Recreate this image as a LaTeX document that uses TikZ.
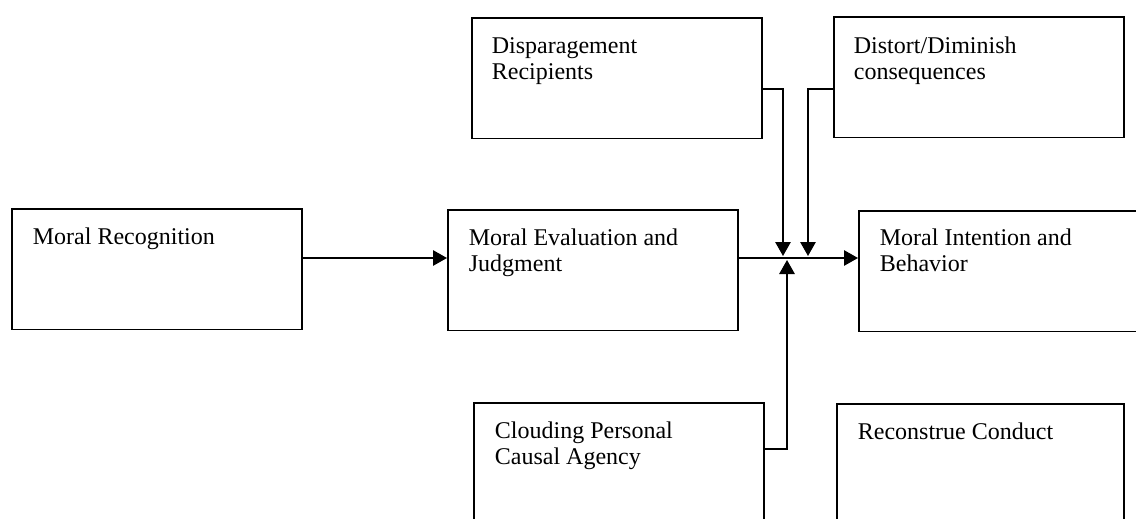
\documentclass[tikz,border=0pt]{standalone}
\usepackage{fontspec}
\setmainfont{Liberation Serif}
\usetikzlibrary{arrows.meta}

\begin{document}
\begin{tikzpicture}[x=0.75pt, y=-0.75pt, line width=1.35pt,
		box/.style={draw, rectangle, anchor=north west, inner sep=0pt, minimum width=217.5pt, minimum height=90.5pt},
		txt/.style={anchor=north west, inner sep=0pt, align=left, font=\fontsize{18pt}{19.5pt}\selectfont},
		arr/.style={-{Triangle[length=10.5pt, width=11.5pt]}}]
		\clip (0,0) rectangle (1136,518);
		
		\node[box] (recog) at (11,208) {};
		\node[box] (eval) at (447,209) {};
		\node[box] (intent) at (858,210) {};
		\node[box] (disp) at (471,17) {};
		\node[box] (distort) at (833,16) {};
		\node[box, minimum height=115pt] (cloud) at (473,402) {};
		\node[box, minimum width=215.25pt, minimum height=115pt] (recon) at (836,403) {};
		
		\node[txt] (recogtxt) at ([shift={(21,19)}]recog.north west) {Moral Recognition};
		\node[txt] (evaltxt) at ([shift={(21,19)}]eval.north west) {Moral Evaluation and\\Judgment};
		\node[txt] (intenttxt) at ([shift={(21,18)}]intent.north west) {Moral Intention and\\Behavior};
		\node[txt] (disptxt) at ([shift={(20,20)}]disp.north west) {Disparagement\\Recipients};
		\node[txt] (distorttxt) at ([shift={(20,20)}]distort.north west) {Distort/Diminish\\consequences};
		\node[txt] (cloudtxt) at ([shift={(21,19)}]cloud.north west) {Clouding Personal\\Causal Agency};
		\node[txt] (recontxt) at ([shift={(21,19)}]recon.north west) {Reconstrue Conduct};
		
		\coordinate (hub) at (785,258);
		\coordinate (dispin) at (783,256);
		\coordinate (distortin) at (808,256);
		\coordinate (cloudin) at (787,260);
		
		\draw[arr] (recog.east |- hub) -- (eval.west |- hub);
		\draw[arr] (eval.east |- hub) -- (intent.west |- hub);
		\draw[arr] ([yshift=-54pt]disp.north east) -| (dispin);
		\draw[arr] ([yshift=-54.75pt]distort.north west) -| (distortin);
		\draw[arr] ([yshift=-35pt]cloud.north east) -| (cloudin);
	\end{tikzpicture}
\end{document}
